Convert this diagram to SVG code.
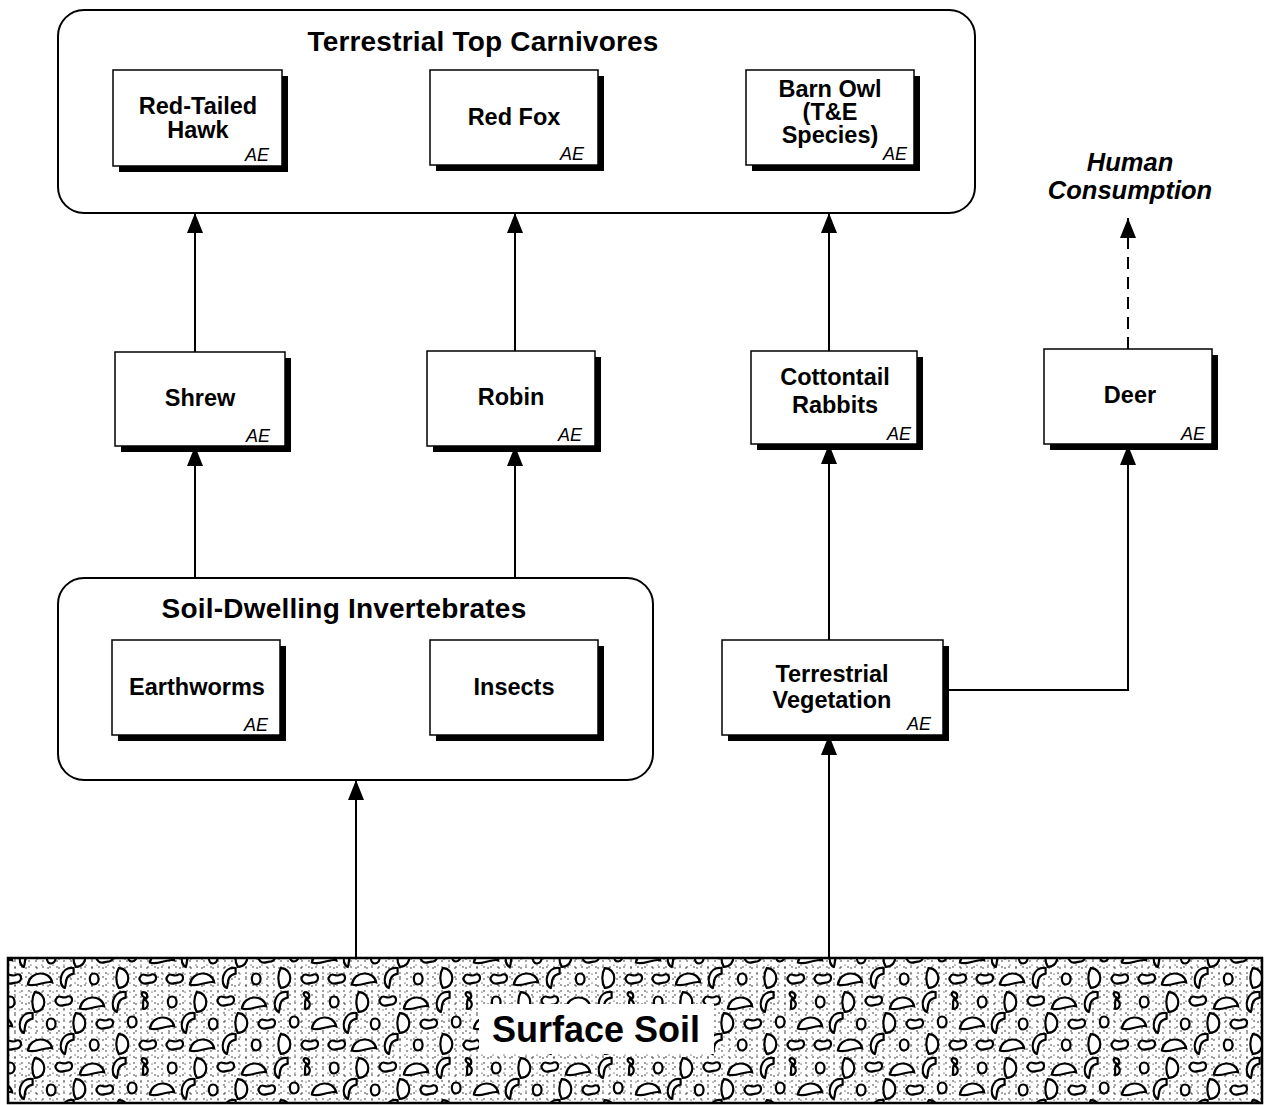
<svg xmlns="http://www.w3.org/2000/svg" width="1270" height="1105" viewBox="0 0 1270 1105">
<style>
.cont{fill:#fff;stroke:#000;stroke-width:2}
.box{fill:#fff;stroke:#000;stroke-width:1.5}
.sh{fill:#000}
.lbl{font-family:"Liberation Sans",Arial,sans-serif;font-weight:bold;font-size:23.5px;text-anchor:middle;fill:#000}
.ttl{font-family:"Liberation Sans",Arial,sans-serif;font-weight:bold;font-size:28px;letter-spacing:0.2px;text-anchor:middle;fill:#000}
.ae{font-family:"Liberation Sans",Arial,sans-serif;font-style:italic;font-size:18px;text-anchor:end;fill:#000}
.hc{font-family:"Liberation Sans",Arial,sans-serif;font-weight:bold;font-style:italic;font-size:25.5px;text-anchor:middle;fill:#000}
.ln{fill:none;stroke:#000;stroke-width:2}
.blob{fill:#fff;stroke:#000;stroke-width:2}
</style>
<defs>
<marker id="ah" markerUnits="userSpaceOnUse" markerWidth="20" markerHeight="16" refX="20" refY="8" orient="auto">
<path d="M0,0 L20,8 L0,16 z" fill="#000"/>
</marker>
<pattern id="dotsA" width="7" height="6" patternUnits="userSpaceOnUse">
<circle cx="1" cy="1" r="0.7" fill="#000"/>
</pattern>
<pattern id="dotsB" width="11" height="9" patternUnits="userSpaceOnUse">
<circle cx="4" cy="5" r="0.7" fill="#000"/>
<circle cx="9" cy="2" r="0.6" fill="#000"/>
</pattern>
<path id="bD" d="M-2,-9 C9,-9 10,9 -2,9 C-5,4 -5,-4 -2,-9z"/>
<path id="bH" d="M-11,5 C-9,-8 9,-8 11,3 C5,1 -4,8 -11,5z"/>
<path id="bK" d="M-7,-2 C-5,-7 -1,-1 3,-4 C8,-6 9,2 4,3 C0,3 -3,6 -6,3 C-8,1 -8,-1 -7,-2z"/>
<path id="bC" d="M6,-9 C-6,-11 -9,6 -2,9 C0,5 -3,-2 6,-4z"/>
<path id="bO" d="M0,-5 C5,-5 6,4 0,5 C-5,5 -5,-5 0,-5z"/>
<path id="bS" d="M-2,-8 C3,-8 3,-3 0,-1 C4,1 3,8 -2,7 C-1,3 -3,-1 0,-3 C-3,-4 -4,-7 -2,-8z"/>
<pattern id="blobs" width="162" height="66" patternUnits="userSpaceOnUse">
<g class="blob">
<use href="#bO" transform="translate(10,12) scale(1.1)"/>
<use href="#bD" transform="translate(37,12) scale(1.1)"/>
<use href="#bK" transform="translate(64,11) scale(1.1)"/>
<use href="#bH" transform="translate(92,13) scale(1.1)"/>
<use href="#bC" transform="translate(119,12) scale(1.1)"/>
<use href="#bS" transform="translate(145,11) scale(1.1)"/>
<use href="#bH" transform="translate(0,33) scale(1.1)"/>
<use href="#bH" transform="translate(162,33) scale(1.1)"/>
<use href="#bC" transform="translate(26,33) scale(1.1)"/>
<use href="#bO" transform="translate(51,34) scale(1.1)"/>
<use href="#bD" transform="translate(78,33) scale(1.1)"/>
<use href="#bK" transform="translate(105,34) scale(1.1)"/>
<use href="#bO" transform="translate(132,32) scale(1.1)"/>
<use href="#bK" transform="translate(13,55) scale(1.1)"/>
<use href="#bH" transform="translate(40,55) scale(1.1)"/>
<use href="#bC" transform="translate(67,54) scale(1.1)"/>
<use href="#bO" transform="translate(94,55) scale(1.1)"/>
<use href="#bD" transform="translate(121,54) scale(1.1)"/>
<use href="#bK" transform="translate(148,55) scale(1.1)"/>
</g>
</pattern>
</defs>

<g id="surface-soil">
<rect x="8" y="958" width="1254" height="145" fill="#fff"/>
<rect x="8" y="958" width="1254" height="145" fill="url(#dotsA)"/>
<rect x="8" y="958" width="1254" height="145" fill="url(#dotsB)"/>
<rect x="8" y="958" width="1254" height="145" fill="url(#blobs)"/>
<rect x="8" y="958" width="1254" height="145" fill="none" stroke="#000" stroke-width="2.5"/>
<rect x="479" y="1004" width="235" height="50" fill="#fff"/>
<text x="596" y="1042" font-family="Liberation Sans, Arial, sans-serif" font-weight="bold" font-size="36" text-anchor="middle">Surface Soil</text>
</g>

<g id="connectors">
<line class="ln" x1="195" y1="352" x2="195" y2="213" marker-end="url(#ah)"/>
<line class="ln" x1="515" y1="351" x2="515" y2="213" marker-end="url(#ah)"/>
<line class="ln" x1="829" y1="351" x2="829" y2="213" marker-end="url(#ah)"/>
<line class="ln" x1="1128" y1="349" x2="1128" y2="218" stroke-dasharray="12,8" marker-end="url(#ah)"/>
<line class="ln" x1="195" y1="578" x2="195" y2="446" marker-end="url(#ah)"/>
<line class="ln" x1="515" y1="578" x2="515" y2="446" marker-end="url(#ah)"/>
<line class="ln" x1="829" y1="640" x2="829" y2="444" marker-end="url(#ah)"/>
<polyline class="ln" points="943,690 1128,690 1128,445" marker-end="url(#ah)"/>
<line class="ln" x1="356" y1="958" x2="356" y2="780" marker-end="url(#ah)"/>
<line class="ln" x1="829" y1="958" x2="829" y2="735" marker-end="url(#ah)"/>
</g>

<g id="terrestrial-top-carnivores">
<rect class="cont" x="58" y="10" width="917" height="203" rx="26"/>
<text class="ttl" x="483" y="51">Terrestrial Top Carnivores</text>
</g>
<g id="red-tailed-hawk">
<rect class="sh" x="119" y="76" width="169" height="96"/>
<rect class="box" x="113" y="70" width="169" height="96"/>
<text class="lbl" x="198" y="114">Red-Tailed</text>
<text class="lbl" x="198" y="138">Hawk</text>
<text class="ae" x="269" y="161">AE</text>
</g>
<g id="red-fox">
<rect class="sh" x="436" y="76" width="168" height="95"/>
<rect class="box" x="430" y="70" width="168" height="95"/>
<text class="lbl" x="514" y="125">Red Fox</text>
<text class="ae" x="584" y="160">AE</text>
</g>
<g id="barn-owl">
<rect class="sh" x="752" y="76" width="168" height="95"/>
<rect class="box" x="746" y="70" width="168" height="95"/>
<text class="lbl" x="830" y="97" font-size="20.5">Barn Owl</text>
<text class="lbl" x="830" y="120" font-size="20.5">(T&amp;E</text>
<text class="lbl" x="830" y="143" font-size="20.5">Species)</text>
<text class="ae" x="907" y="160">AE</text>
</g>
<g id="shrew">
<rect class="sh" x="121" y="358" width="170" height="94"/>
<rect class="box" x="115" y="352" width="170" height="94"/>
<text class="lbl" x="200" y="406">Shrew</text>
<text class="ae" x="270" y="442">AE</text>
</g>
<g id="robin">
<rect class="sh" x="433" y="357" width="168" height="95"/>
<rect class="box" x="427" y="351" width="168" height="95"/>
<text class="lbl" x="511" y="405">Robin</text>
<text class="ae" x="582" y="441">AE</text>
</g>
<g id="cottontail-rabbits">
<rect class="sh" x="757" y="357" width="166" height="93"/>
<rect class="box" x="751" y="351" width="166" height="93"/>
<text class="lbl" x="835" y="385">Cottontail</text>
<text class="lbl" x="835" y="413">Rabbits</text>
<text class="ae" x="911" y="440">AE</text>
</g>
<g id="deer">
<rect class="sh" x="1050" y="355" width="168" height="95"/>
<rect class="box" x="1044" y="349" width="168" height="95"/>
<text class="lbl" x="1130" y="403">Deer</text>
<text class="ae" x="1205" y="440">AE</text>
</g>
<g id="human-consumption">
<text class="hc" x="1130" y="171">Human</text>
<text class="hc" x="1130" y="199">Consumption</text>
</g>
<g id="soil-dwelling-invertebrates">
<rect class="cont" x="58" y="578" width="595" height="202" rx="26"/>
<text class="ttl" x="344" y="618">Soil-Dwelling Invertebrates</text>
</g>
<g id="earthworms">
<rect class="sh" x="118" y="646" width="168" height="95"/>
<rect class="box" x="112" y="640" width="168" height="95"/>
<text class="lbl" x="197" y="695">Earthworms</text>
<text class="ae" x="268" y="731">AE</text>
</g>
<g id="insects">
<rect class="sh" x="436" y="646" width="168" height="95"/>
<rect class="box" x="430" y="640" width="168" height="95"/>
<text class="lbl" x="514" y="695">Insects</text>
</g>
<g id="terrestrial-vegetation">
<rect class="sh" x="728" y="646" width="221" height="95"/>
<rect class="box" x="722" y="640" width="221" height="95"/>
<text class="lbl" x="832" y="682">Terrestrial</text>
<text class="lbl" x="832" y="708">Vegetation</text>
<text class="ae" x="931" y="730">AE</text>
</g>
</svg>
